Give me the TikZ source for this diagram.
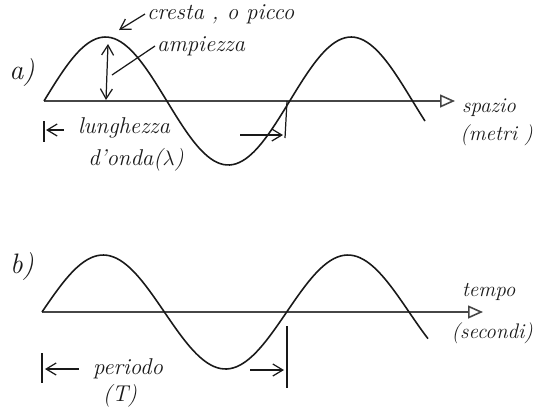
\documentclass[tikz,border=0pt]{standalone}
\usepackage{tikz}
\usetikzlibrary{arrows.meta, positioning}
\definecolor{InkColor}{RGB}{25,25,25}
\definecolor{AxisColor}{RGB}{70,70,70}
\tikzset{
  hand/.style={font=\itshape\fontsize{13}{15}\selectfont, text=InkColor, inner sep=1pt},
  side/.style={font=\itshape\large, text=InkColor, inner sep=1pt},
  tag/.style={font=\itshape\fontsize{16}{18}\selectfont, text=InkColor, inner sep=1pt},
  wave/.style={InkColor, line width=0.9pt, smooth},
  axisline/.style={AxisColor, line width=0.9pt, -{Triangle[open, length=3mm, width=2.6mm]}},
  pointer/.style={InkColor, line width=0.7pt, -{Straight Barb[length=2mm, width=2.4mm]}},
  twoway/.style={InkColor, line width=0.7pt, {Straight Barb[length=2mm, width=2.4mm]}-{Straight Barb[length=2mm, width=2.4mm]}},
  tick/.style={InkColor, line width=0.7pt}
}
\begin{document}
\begin{tikzpicture}[x=0.02cm, y=-0.02cm]
  \useasboundingbox (0,0) rectangle (538,407);

  % a) onda nello spazio
  \coordinate (aO) at (44,101);
  \coordinate (aE) at (455,101);
  \coordinate (aTop) at (108,44);
  \coordinate (aFoot) at (106,100);
  \coordinate (aMid) at (112,75);
  \coordinate (aCrest) at (119,30);
  \coordinate (aCross) at (287,101);
  \draw[axisline] (aO) -- (aE);
  \draw[wave] plot[domain=44:425, samples=120] (\x, {101-64*sin(1.4652*(\x-44))});
  \node[tag] (alabel) at (22,72) {a)};
  \node[hand, anchor=west] (cresta) at (145,14) {cresta , o picco};
  \node[hand, anchor=west] (ampiezza) at (155,46) {ampiezza};
  \node[side, anchor=west] (spazio) at (460,108) {spazio};
  \node[side, anchor=east] (metri) at (535,135) {(metri )};
  \node[hand] (lunghezza) at (124,128) {lunghezza};
  \node[hand] (donda) at (136,160) {d'onda($\lambda$)};
  \draw[pointer] (cresta.west) -- (aCrest);
  \draw[twoway] (aTop) -- (aFoot);
  \draw[tick] (ampiezza.west) -- (aMid);
  \draw[tick] (44,121) -- (44,142);
  \draw[pointer] (lunghezza.west) ++(-12,2) -- (46,130);
  \draw[tick] (aCross) -- (285,138);
  \draw[pointer] (240,135) -- (283,135);

  % b) onda nel tempo
  \coordinate (bO) at (42,312);
  \coordinate (bE) at (483,312);
  \coordinate (bCross) at (287,312);
  \draw[axisline] (bO) -- (bE);
  \draw[wave] plot[domain=42:428, samples=120] (\x, {312-57*sin(1.47119*(\x-42))});
  \node[tag] (blabel) at (22,266) {b)};
  \node[side, anchor=west] (tempo) at (460,292) {tempo};
  \node[side, anchor=east] (secondi) at (535,333) {(secondi)};
  \node[hand] (periodo) at (128,369) {periodo};
  \node[hand] (T) at (120,396) {(T)};
  \draw[tick] (42,353) -- (42,383);
  \draw[pointer] (periodo.west) ++(-12,0) -- (45,369);
  \draw[tick] (bCross) ++(0,14) -- (287,388);
  \draw[pointer] (250,370) -- (284,370);
\end{tikzpicture}
\end{document}
